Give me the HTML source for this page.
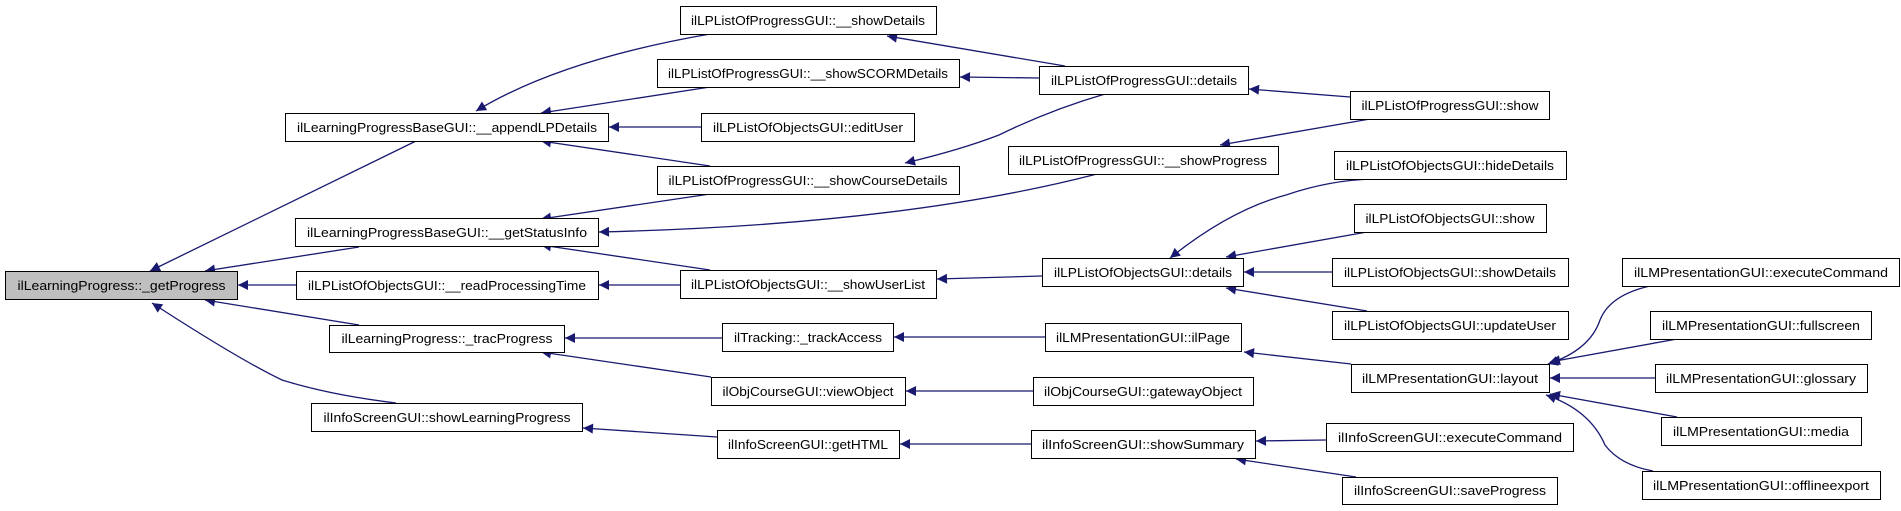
<!DOCTYPE html>
<html><head><meta charset="utf-8"><style>
html,body{margin:0;padding:0;background:#fff;}
svg{display:block;}
text{font-family:"Liberation Sans",sans-serif;font-size:13px;fill:#000;}
</style></head><body>
<svg width="1901" height="511" viewBox="0 0 1901 511" xmlns="http://www.w3.org/2000/svg">
<defs>
<marker id="a" viewBox="0 0 10 10" refX="10" refY="5" markerWidth="14" markerHeight="10" markerUnits="userSpaceOnUse" orient="auto-start-reverse">
<path d="M0,0 L10,5 L0,10 z" fill="#191970"/>
</marker>
</defs>
<g fill="none" stroke="#191970" stroke-width="1.3" marker-start="url(#a)">
<path d="M150,271 L416,141"/>
<path d="M205,271 L359,247"/>
<path d="M238,285 L296,285"/>
<path d="M205,300 L359,325"/>
<path d="M152,303 Q240,360 282,380 Q330,395 396,403"/>
<path d="M476,111 Q560,60 710,34"/>
<path d="M541,113 L710,87"/>
<path d="M609,127 L701,127"/>
<path d="M541,141 L710,166"/>
<path d="M541,219 L710,194"/>
<path d="M599,232 Q900,225 1097,174"/>
<path d="M541,245 L710,270"/>
<path d="M599,285 L680,285"/>
<path d="M565,338 L722,338"/>
<path d="M541,352 L711,377"/>
<path d="M583,428 L717,437"/>
<path d="M887,36 L1065,66"/>
<path d="M960,77 L1039,78"/>
<path d="M905,163 Q960,150 999,135 Q1050,110 1105,94"/>
<path d="M937,279 L1042,276"/>
<path d="M894,337 L1045,337"/>
<path d="M906,391 L1033,391"/>
<path d="M900,444 L1031,444"/>
<path d="M1249,89 L1350,97"/>
<path d="M1220,145 L1370,119"/>
<path d="M1170,258 Q1230,210 1286,195 Q1330,180 1373,179"/>
<path d="M1226,257 L1367,232"/>
<path d="M1244,272 L1332,272"/>
<path d="M1226,288 L1367,311"/>
<path d="M1244,352 L1351,364"/>
<path d="M1256,441 L1326,440"/>
<path d="M1236,459 L1356,477"/>
<path d="M1548,364 Q1590,350 1600,320 Q1610,295 1650,286"/>
<path d="M1550,362 L1677,339"/>
<path d="M1550,378 L1655,378"/>
<path d="M1550,394 L1677,417"/>
<path d="M1546,395 Q1590,410 1605,445 Q1620,465 1653,471"/>
</g>
<g stroke="#000" stroke-width="1" fill="#fff">
<rect x="5.5" y="271.5" width="232" height="28" fill="#bfbfbf"/>
<rect x="285.5" y="113.5" width="323" height="28"/>
<rect x="295.5" y="218.5" width="303" height="28"/>
<rect x="296.5" y="271.5" width="302" height="28"/>
<rect x="329.5" y="325.5" width="235" height="27"/>
<rect x="311.5" y="403.5" width="271" height="28"/>
<rect x="680.5" y="6.5" width="256" height="28"/>
<rect x="657.5" y="59.5" width="302" height="28"/>
<rect x="701.5" y="113.5" width="213" height="28"/>
<rect x="657.5" y="166.5" width="302" height="28"/>
<rect x="680.5" y="270.5" width="256" height="28"/>
<rect x="722.5" y="323.5" width="171" height="28"/>
<rect x="711.5" y="377.5" width="194" height="28"/>
<rect x="717.5" y="430.5" width="182" height="28"/>
<rect x="1039.5" y="66.5" width="209" height="28"/>
<rect x="1008.5" y="146.5" width="270" height="28"/>
<rect x="1042.5" y="258.5" width="201" height="28"/>
<rect x="1045.5" y="323.5" width="196" height="28"/>
<rect x="1033.5" y="377.5" width="220" height="28"/>
<rect x="1031.5" y="430.5" width="224" height="28"/>
<rect x="1350.5" y="91.5" width="199" height="28"/>
<rect x="1334.5" y="151.5" width="232" height="28"/>
<rect x="1354.5" y="204.5" width="192" height="28"/>
<rect x="1332.5" y="258.5" width="236" height="28"/>
<rect x="1332.5" y="311.5" width="236" height="28"/>
<rect x="1351.5" y="364.5" width="198" height="28"/>
<rect x="1326.5" y="423.5" width="247" height="28"/>
<rect x="1342.5" y="477.5" width="215" height="27"/>
<rect x="1622.5" y="258.5" width="277" height="28"/>
<rect x="1650.5" y="311.5" width="221" height="28"/>
<rect x="1655.5" y="364.5" width="212" height="28"/>
<rect x="1661.5" y="417.5" width="200" height="28"/>
<rect x="1642.5" y="471.5" width="238" height="28"/>
</g>
<g text-anchor="middle">
<text x="121.5" y="290" textLength="208" lengthAdjust="spacingAndGlyphs">ilLearningProgress::_getProgress</text>
<text x="447" y="132" textLength="300" lengthAdjust="spacingAndGlyphs">ilLearningProgressBaseGUI::__appendLPDetails</text>
<text x="447" y="237" textLength="280" lengthAdjust="spacingAndGlyphs">ilLearningProgressBaseGUI::__getStatusInfo</text>
<text x="447" y="290" textLength="278" lengthAdjust="spacingAndGlyphs">ilLPListOfObjectsGUI::__readProcessingTime</text>
<text x="447" y="343" textLength="211" lengthAdjust="spacingAndGlyphs">ilLearningProgress::_tracProgress</text>
<text x="447" y="422" textLength="247" lengthAdjust="spacingAndGlyphs">ilInfoScreenGUI::showLearningProgress</text>
<text x="808" y="25" textLength="234" lengthAdjust="spacingAndGlyphs">ilLPListOfProgressGUI::__showDetails</text>
<text x="808" y="78" textLength="280" lengthAdjust="spacingAndGlyphs">ilLPListOfProgressGUI::__showSCORMDetails</text>
<text x="808" y="132" textLength="190" lengthAdjust="spacingAndGlyphs">ilLPListOfObjectsGUI::editUser</text>
<text x="808" y="185" textLength="279" lengthAdjust="spacingAndGlyphs">ilLPListOfProgressGUI::__showCourseDetails</text>
<text x="808" y="289" textLength="234" lengthAdjust="spacingAndGlyphs">ilLPListOfObjectsGUI::__showUserList</text>
<text x="808" y="342" textLength="148" lengthAdjust="spacingAndGlyphs">ilTracking::_trackAccess</text>
<text x="808" y="396" textLength="171" lengthAdjust="spacingAndGlyphs">ilObjCourseGUI::viewObject</text>
<text x="808" y="449" textLength="160" lengthAdjust="spacingAndGlyphs">ilInfoScreenGUI::getHTML</text>
<text x="1144" y="85" textLength="186" lengthAdjust="spacingAndGlyphs">ilLPListOfProgressGUI::details</text>
<text x="1143" y="165" textLength="248" lengthAdjust="spacingAndGlyphs">ilLPListOfProgressGUI::__showProgress</text>
<text x="1143" y="277" textLength="178" lengthAdjust="spacingAndGlyphs">ilLPListOfObjectsGUI::details</text>
<text x="1143" y="342" textLength="174" lengthAdjust="spacingAndGlyphs">ilLMPresentationGUI::ilPage</text>
<text x="1143" y="396" textLength="198" lengthAdjust="spacingAndGlyphs">ilObjCourseGUI::gatewayObject</text>
<text x="1143" y="449" textLength="202" lengthAdjust="spacingAndGlyphs">ilInfoScreenGUI::showSummary</text>
<text x="1450" y="110" textLength="177" lengthAdjust="spacingAndGlyphs">ilLPListOfProgressGUI::show</text>
<text x="1450" y="170" textLength="208" lengthAdjust="spacingAndGlyphs">ilLPListOfObjectsGUI::hideDetails</text>
<text x="1450" y="223" textLength="169" lengthAdjust="spacingAndGlyphs">ilLPListOfObjectsGUI::show</text>
<text x="1450" y="277" textLength="212" lengthAdjust="spacingAndGlyphs">ilLPListOfObjectsGUI::showDetails</text>
<text x="1450" y="330" textLength="212" lengthAdjust="spacingAndGlyphs">ilLPListOfObjectsGUI::updateUser</text>
<text x="1450" y="383" textLength="176" lengthAdjust="spacingAndGlyphs">ilLMPresentationGUI::layout</text>
<text x="1450" y="442" textLength="224" lengthAdjust="spacingAndGlyphs">ilInfoScreenGUI::executeCommand</text>
<text x="1450" y="495" textLength="192" lengthAdjust="spacingAndGlyphs">ilInfoScreenGUI::saveProgress</text>
<text x="1761" y="277" textLength="254" lengthAdjust="spacingAndGlyphs">ilLMPresentationGUI::executeCommand</text>
<text x="1761" y="330" textLength="198" lengthAdjust="spacingAndGlyphs">ilLMPresentationGUI::fullscreen</text>
<text x="1761" y="383" textLength="190" lengthAdjust="spacingAndGlyphs">ilLMPresentationGUI::glossary</text>
<text x="1761" y="436" textLength="176" lengthAdjust="spacingAndGlyphs">ilLMPresentationGUI::media</text>
<text x="1761" y="490" textLength="216" lengthAdjust="spacingAndGlyphs">ilLMPresentationGUI::offlineexport</text>
</g>
</svg>
</body></html>
